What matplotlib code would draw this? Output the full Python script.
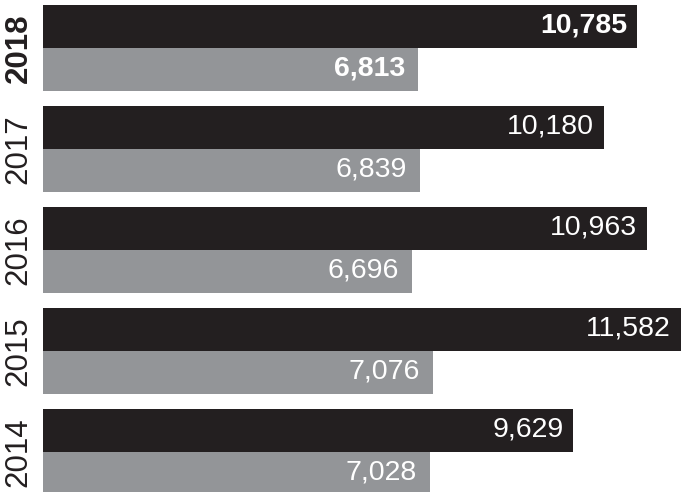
import matplotlib
matplotlib.use("Agg")
import matplotlib.pyplot as plt

years = ["2018", "2017", "2016", "2015", "2014"]
top_values = [10785, 10180, 10963, 11582, 9629]
bottom_values = [6813, 6839, 6696, 7076, 7028]

dark = "#231f20"
grey = "#939598"

plt.rcParams["font.family"] = ["Liberation Sans", "DejaVu Sans"]

fig = plt.figure(figsize=(6.81, 4.92), dpi=100)
ax = fig.add_axes([43 / 681, 0, 638 / 681, 1])

h = 0.426
pad = 0.05
pos = range(len(years))
top_y = [i + pad + h / 2 for i in pos]
bot_y = [i + pad + 1.5 * h for i in pos]

ax.barh(top_y, top_values, height=h, color=dark, linewidth=0)
ax.barh(bot_y, bottom_values, height=h, color=grey, linewidth=0)

for i, year in enumerate(years):
    weight = "bold" if i == 0 else "normal"
    ax.text(-0.0385, i + pad + h, year, transform=ax.get_yaxis_transform(),
            rotation=90, ha="center", va="center", fontsize=22.5,
            color=dark, fontweight=weight)
    ax.annotate(f"{top_values[i]:,}", (top_values[i], top_y[i]),
                xytext=(-10, 1), textcoords="offset pixels",
                ha="right", va="center", fontsize=20.5, color="white",
                fontweight=weight)
    ax.annotate(f"{bottom_values[i]:,}", (bottom_values[i], bot_y[i]),
                xytext=(-13, 1), textcoords="offset pixels",
                ha="right", va="center", fontsize=20.5, color="white",
                fontweight=weight)

ax.set_xlim(0, max(top_values))
ax.set_ylim(492 / 101, 0)
ax.axis("off")

fig.savefig("out.png", dpi=100)
